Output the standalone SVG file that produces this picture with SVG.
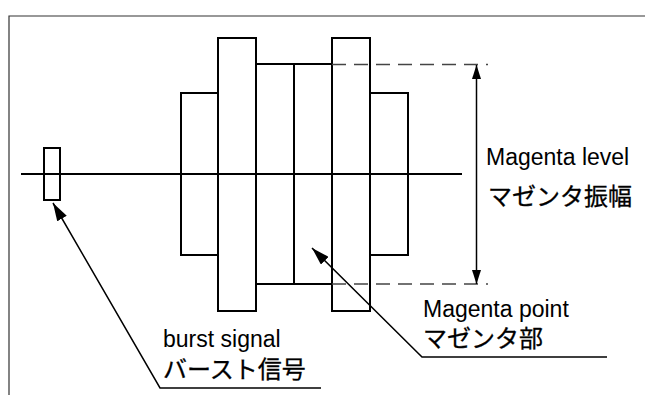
<svg xmlns="http://www.w3.org/2000/svg" width="645" height="395" viewBox="0 0 645 395">
<style>
.box{fill:none;stroke:#000;stroke-width:2}
.axis{stroke:#000;stroke-width:2;fill:none}
.dash{stroke:#444;stroke-width:1.5;stroke-dasharray:14 8;fill:none}
.lead{stroke:#000;stroke-width:1.5;fill:none}
.frame{stroke:#333;stroke-width:1.2;fill:none}
.en{font-family:"Liberation Sans",Arial,sans-serif;font-size:23px;fill:#000}
.jp{font-family:"Noto Sans CJK JP",sans-serif;font-size:24px;fill:#000;stroke:#000;stroke-width:0.3}
</style>
<defs>
<marker id="lh" markerUnits="userSpaceOnUse" markerWidth="18" markerHeight="11" viewBox="0 0 18 11" refX="18" refY="5.5" orient="auto">
<path d="M0,0 L18,5.5 L0,11 z" fill="#000"/>
</marker>
<marker id="dh" markerUnits="userSpaceOnUse" markerWidth="14" markerHeight="9" viewBox="0 0 14 9" refX="14" refY="4.5" orient="auto-start-reverse">
<path d="M0,0 L14,4.5 L0,9 z" fill="#000"/>
</marker>
</defs>
<g id="frame"><path class="frame" d="M9,395 L9,16 L645,16"/></g>
<g id="axis"><line class="axis" x1="21" y1="174" x2="462" y2="174"/></g>
<g id="burst"><rect class="box" x="44" y="148" width="16" height="52"/></g>
<g id="bar-outer-left"><rect class="box" x="181" y="93" width="37" height="162"/></g>
<g id="bar-tall-left"><rect class="box" x="218" y="38" width="38" height="273"/></g>
<g id="bar-mid-left"><rect class="box" x="256" y="64" width="38" height="220"/></g>
<g id="bar-mid-right"><rect class="box" x="294" y="64" width="38" height="220"/></g>
<g id="bar-tall-right"><rect class="box" x="332" y="38" width="38" height="273"/></g>
<g id="bar-outer-right"><rect class="box" x="370" y="93" width="38" height="162"/></g>
<g id="connectors">
<line class="dash" x1="332" y1="64.5" x2="488" y2="64.5"/>
<line class="dash" x1="332" y1="284" x2="488" y2="284"/>
<line class="lead" x1="476.5" y1="65" x2="476.5" y2="284" marker-start="url(#dh)" marker-end="url(#dh)"/>
<path class="lead" d="M321,388 L160,388 L53,203" marker-end="url(#lh)"/>
<path class="lead" d="M607,357 L422,357 L312,248" marker-end="url(#lh)"/>
</g>
<g id="label-level">
<text class="en" x="486" y="165">Magenta level</text>
<text class="jp" x="488" y="205">マゼンタ振幅</text>
</g>
<g id="label-point">
<text class="en" x="423" y="317">Magenta point</text>
<text class="jp" x="423" y="347">マゼンタ部</text>
</g>
<g id="label-burst">
<text class="en" x="163" y="347">burst signal</text>
<text class="jp" x="163" y="378">バースト信号</text>
</g>
</svg>
